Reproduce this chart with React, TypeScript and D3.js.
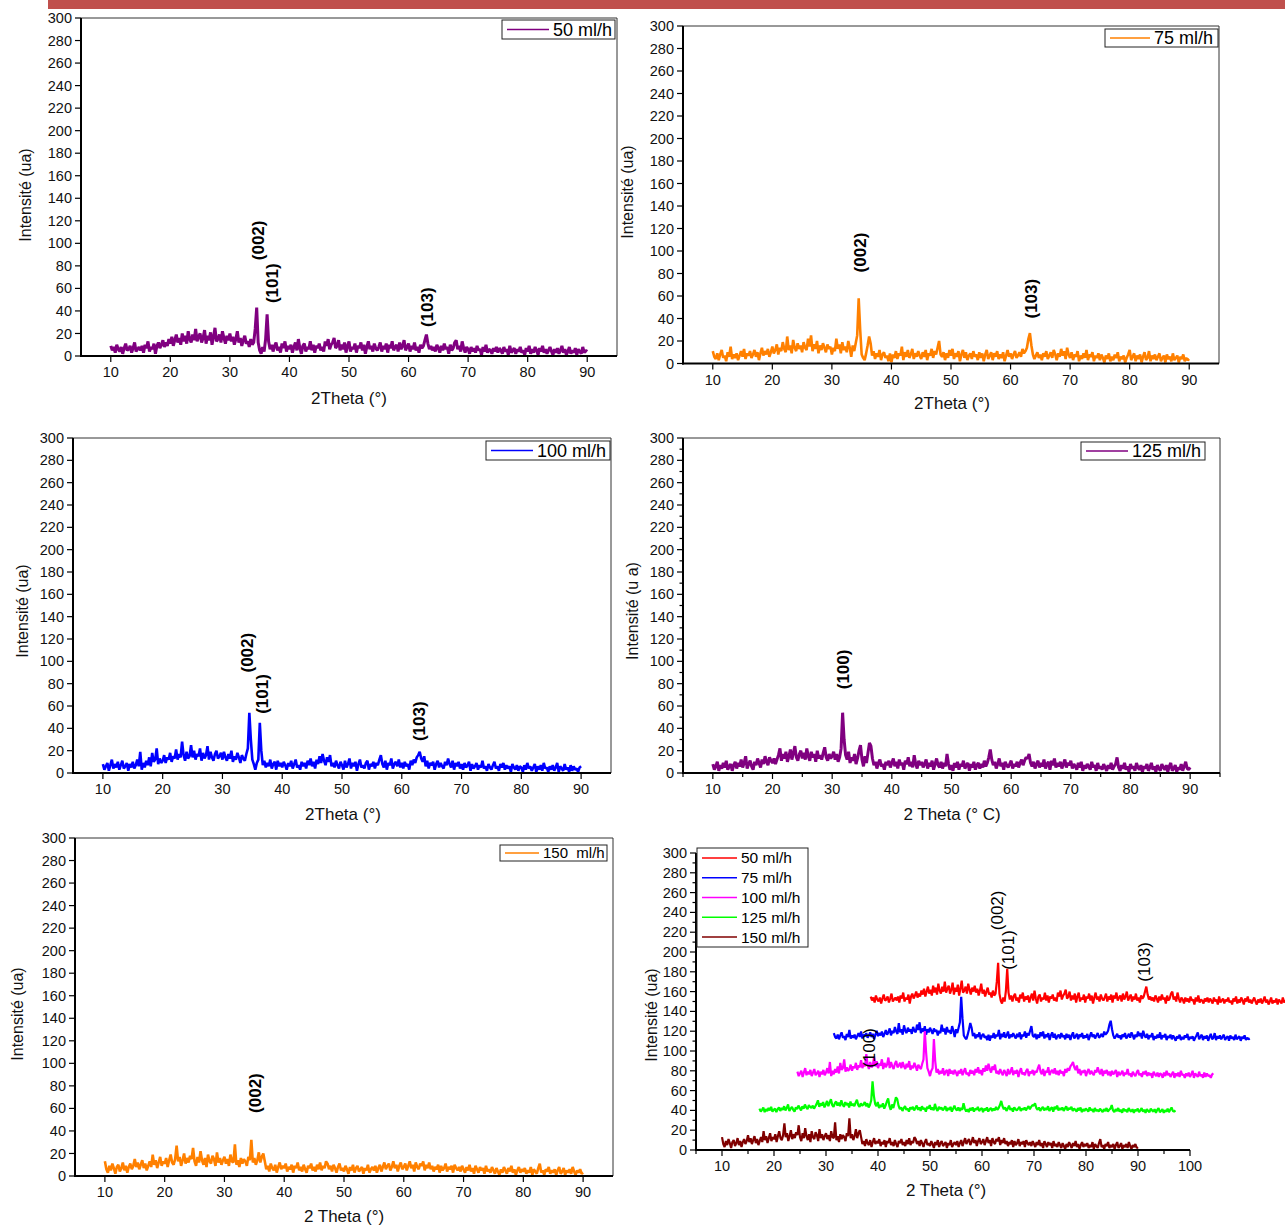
import React from 'react';
import * as d3 from 'd3';

// 2θ sampling of every scan: 10° → 90° by 0.25°
const THETA_START = 10;
const THETA_STEP = 0.25;

// Intensity (ua), 20 values per 5°
const flow50 = [
  9,5,8,3,10,6,4,8,2,7,11,5,6,9,3,7,12,4,6,8,
  5,9,3,10,7,13,4,8,6,11,2,9,12,7,10,14,8,12,9,15,
  11,17,9,14,19,12,16,10,20,13,18,11,22,15,12,19,14,24,13,17,
  20,12,16,23,11,18,14,21,10,17,25,13,15,19,12,22,16,11,18,14,
  20,13,17,10,15,22,12,16,9,14,18,11,13,8,15,10,12,24,43,12,
  5,2,8,4,15,37,13,6,10,4,9,12,5,8,3,11,7,13,4,9,
  6,10,3,8,12,5,15,7,2,9,11,4,8,6,13,5,10,3,9,7,
  11,5,8,4,13,9,15,6,10,12,16,7,9,14,5,10,6,12,3,9,
  13,4,8,6,11,3,9,7,12,5,10,2,8,13,6,9,4,11,7,5,
  8,12,4,9,6,11,3,10,7,13,5,8,10,4,12,6,9,14,5,8,
  11,4,9,6,12,5,8,3,10,7,9,14,19,11,6,9,5,8,4,10,
  7,3,9,5,11,6,8,2,10,5,7,12,14,6,9,4,13,7,3,8,
  6,2,8,4,7,3,9,5,6,1,8,4,10,3,6,5,2,7,4,8,
  3,7,5,2,8,4,6,1,9,3,5,7,2,6,4,8,3,5,1,7,
  4,9,2,6,3,8,5,1,7,4,9,3,6,2,5,8,4,1,6,3,
  7,2,5,9,3,6,1,4,8,2,5,3,7,1,6,4,2,8,3,5,
  4,
];

const flow75 = [
  11,6,4,9,3,8,12,5,7,2,10,6,15,4,8,5,9,3,7,11,
  6,13,4,9,7,11,5,8,12,6,10,3,9,14,7,11,8,13,6,10,
  15,9,12,17,8,14,11,19,13,10,24,12,16,9,21,14,11,18,13,16,
  10,19,14,12,22,15,25,11,17,13,20,9,16,12,18,14,10,17,13,15,
  8,14,11,22,13,17,9,19,12,15,10,20,14,6,16,11,18,25,58,30,
  8,5,3,9,16,24,18,7,11,4,9,6,12,3,8,10,5,7,2,9,
  1,8,5,11,4,9,7,15,3,10,6,12,5,8,13,4,9,6,11,7,
  4,10,6,12,3,9,7,13,5,11,8,14,20,8,6,10,3,9,5,12,
  7,13,4,9,6,11,2,8,12,5,10,3,7,9,4,11,6,8,3,10,
  5,9,2,8,12,4,7,10,3,9,6,11,4,8,5,10,2,7,12,6,
  9,4,8,11,5,7,10,6,13,9,11,14,22,27,16,8,4,7,10,5,
  8,3,9,6,11,4,7,10,5,12,8,3,9,6,13,7,11,4,14,8,
  5,10,3,8,6,11,2,7,4,9,5,12,3,8,6,10,2,7,5,9,
  3,8,5,1,7,4,9,2,6,3,8,5,10,2,6,4,7,1,5,8,
  12,3,6,9,2,7,4,8,1,6,10,3,5,11,2,7,4,8,3,6,
  9,2,5,7,1,8,4,6,2,9,3,5,7,1,6,4,8,2,5,3,
  4,
];

const flow100 = [
  8,3,6,9,2,7,12,4,8,5,10,3,7,11,4,6,9,2,8,5,
  10,4,7,12,6,19,3,9,5,11,7,14,6,18,10,12,22,8,13,9,
  11,16,9,14,12,18,10,15,13,21,12,17,14,28,16,11,19,13,15,25,
  14,20,12,17,15,22,11,18,13,16,24,12,19,14,11,17,20,13,15,18,
  12,19,14,11,17,13,20,10,15,12,18,14,9,16,13,11,17,22,54,30,
  12,8,3,9,12,45,20,7,11,5,9,6,12,4,8,10,3,11,6,9,
  5,10,7,3,9,6,11,4,8,12,5,7,3,10,6,9,4,11,7,13,
  6,10,4,12,8,15,9,17,11,7,14,10,16,6,9,5,11,7,4,10,
  7,3,11,5,8,13,4,9,6,10,2,8,12,5,7,4,9,11,3,8,
  6,10,4,9,7,12,16,8,5,11,3,9,7,13,4,8,10,6,12,5,
  9,4,10,6,8,3,11,7,12,9,14,16,19,13,10,15,6,11,4,9,
  7,10,3,8,11,5,9,6,4,10,7,13,8,5,11,3,9,6,10,4,
  8,3,9,5,7,10,2,8,4,6,9,3,7,5,11,4,6,2,8,5,
  3,7,10,4,6,2,8,5,9,3,7,4,6,1,8,5,3,7,2,6,
  5,1,7,3,9,4,6,2,5,8,1,6,3,7,2,9,4,5,1,6,
  3,7,2,5,9,1,6,4,2,8,3,5,1,7,2,6,3,4,1,5,
  6,
];

const flow125 = [
  8,3,6,10,2,7,4,9,5,11,3,6,8,2,7,10,4,9,6,12,
  5,9,15,4,8,11,6,3,10,7,13,9,5,12,8,15,10,7,14,11,
  9,13,8,12,16,22,11,17,13,19,10,15,21,12,18,24,14,11,17,20,
  13,18,12,22,15,11,19,14,17,10,20,13,16,12,18,23,14,11,17,13,
  15,19,12,17,10,14,22,54,30,16,12,19,9,14,11,17,8,13,20,25,
  12,6,15,9,18,27,24,13,7,10,4,9,12,6,8,3,10,7,11,5,
  9,13,6,10,4,12,7,9,3,11,8,14,6,10,5,16,8,4,11,7,
  10,5,8,12,4,9,6,11,3,8,13,7,5,10,4,9,6,17,8,3,
  7,2,9,5,10,3,8,6,11,4,7,9,2,8,5,10,3,7,9,4,
  8,5,11,6,9,14,21,12,7,10,4,8,13,6,9,3,10,7,5,8,
  11,4,8,6,10,5,9,12,7,11,14,13,17,9,6,10,4,8,11,5,
  9,6,12,4,8,10,3,11,7,13,5,9,6,10,4,8,12,5,9,7,
  11,4,8,6,3,9,5,10,2,7,4,8,6,3,10,5,7,2,9,4,
  6,3,8,5,2,7,4,9,3,6,8,14,5,2,7,4,9,3,6,1,
  8,4,6,2,9,5,3,7,1,6,4,8,2,5,9,3,6,1,7,4,
  2,8,5,3,7,1,6,9,2,4,7,1,5,3,8,2,6,10,4,3,
  5,
];

const flow150 = [
  13,6,3,9,5,11,7,2,8,10,4,7,12,5,9,3,8,11,6,9,
  15,8,12,6,10,14,7,11,5,9,13,8,19,10,14,7,12,17,9,13,
  11,16,8,14,19,12,10,15,27,13,17,9,14,20,11,16,12,18,15,25,
  13,9,17,12,22,14,10,16,8,19,13,11,18,15,9,21,12,16,10,14,
  17,11,15,9,19,13,12,28,10,14,8,16,11,15,13,9,17,14,32,12,
  16,10,14,21,12,17,20,13,6,9,4,11,7,5,10,3,8,12,6,9,
  7,11,4,8,6,10,3,9,7,12,5,8,4,10,6,3,9,7,11,5,
  8,4,10,6,12,5,9,7,13,11,6,9,4,10,7,3,8,11,5,7,
  4,9,6,2,8,5,10,3,7,9,4,6,8,2,7,5,10,3,6,8,
  5,9,3,7,10,4,8,12,6,9,11,5,8,13,7,10,4,9,12,6,
  8,11,5,9,13,7,10,4,12,8,6,11,9,13,5,10,7,12,6,9,
  4,8,6,10,3,9,5,7,11,4,8,6,9,3,10,7,5,8,4,9,
  6,3,8,5,10,4,7,2,9,6,3,8,5,7,2,9,4,6,3,8,
  5,2,7,4,1,6,3,8,5,2,7,4,9,3,6,1,5,8,3,6,
  4,7,2,5,3,8,1,6,4,2,7,11,3,5,1,6,4,8,2,5,
  3,6,1,5,8,2,4,7,1,5,3,6,2,8,4,1,5,3,6,2,
  3,
];

// Axis ticks
const yTickValues = [0,20,40,60,80,100,120,140,160,180,200,220,240,260,280,300];
const xTickValues = [10,20,30,40,50,60,70,80,90];
const xTickValuesAll = [10,20,30,40,50,60,70,80,90,100];

// Stacked panel: series label, shift in 2θ, vertical offset, scale
const stackLabels = ['50 ml/h','75 ml/h','100 ml/h','125 ml/h','150 ml/h'];
const stackShift = [28.6, 21.5, 14.5, 7.2, 0];
const stackOffset = [146, 109.5, 72, 37, 0];
const stackScale = [1, 0.78, 0.89, 0.6, 1];

type Pt = { x: number; y: number };
const toPoints = (vals: number[], shift = 0, offset = 0, scale = 1): Pt[] =>
  vals.map((v, i) => ({ x: THETA_START + i * THETA_STEP + shift, y: offset + v * scale }));

const FONT = '"Liberation Sans", Arial, Helvetica, sans-serif';

type Series = { pts: Pt[]; color: string; name: string };
type Ann = { text: string; x: number; y: number };

type PanelProps = {
  l: number; r: number; t: number; b: number;
  xDomain: [number, number];
  xTicks: number[];
  minor: boolean;
  frame: boolean;
  series: Series[];
  sw: number;
  anns: Ann[];
  annBold: boolean;
  xLabel: string; xLabelX: number; xLabelY: number;
  yLabel: string; yLabelX: number; yLabelY: number;
  legend?: { x: number; y: number; w: number; h: number; fs: number; lineW: number };
};

function Panel(p: PanelProps) {
  const x = d3.scaleLinear().domain(p.xDomain).range([p.l, p.r]);
  const y = d3.scaleLinear().domain([0, 300]).range([p.b, p.t]);
  const line = d3.line<Pt>().x(d => x(d.x)).y(d => y(d.y));
  const minorY = p.minor ? d3.range(10, 300, 20) : [];
  const minorX = p.minor ? d3.range(p.xDomain[0], p.xDomain[1] + 0.01, 10).filter(v => v >= p.xDomain[0]) : [];
  return (
    <g>
      {p.series.map((s, i) => (
        <path key={i} d={line(s.pts) || ''} fill="none" stroke={s.color} strokeWidth={p.sw} strokeLinejoin="bevel" />
      ))}
      {p.frame && (
        <>
          <line x1={p.l} x2={p.r} y1={p.t} y2={p.t} stroke="#333" strokeWidth={1} />
          <line x1={p.r} x2={p.r} y1={p.t} y2={p.b} stroke="#333" strokeWidth={1} />
        </>
      )}
      <line x1={p.l} x2={p.l} y1={p.t} y2={p.b + 1} stroke="#000" strokeWidth={2} />
      <line x1={p.l - 1} x2={p.r} y1={p.b} y2={p.b} stroke="#000" strokeWidth={2} />
      {yTickValues.map(v => (
        <g key={'y' + v}>
          <line x1={p.l - 6} x2={p.l} y1={y(v)} y2={y(v)} stroke="#000" strokeWidth={1.2} />
          <text x={p.l - 9} y={y(v)} dy="0.35em" textAnchor="end" fontSize={14.5} fontFamily={FONT} fill="#111">{v}</text>
        </g>
      ))}
      {minorY.map(v => (
        <line key={'my' + v} x1={p.l - 3.5} x2={p.l} y1={y(v)} y2={y(v)} stroke="#000" strokeWidth={1.2} />
      ))}
      {p.xTicks.map(v => (
        <g key={'x' + v}>
          <line x1={x(v)} x2={x(v)} y1={p.b} y2={p.b + 6} stroke="#000" strokeWidth={1.2} />
          <text x={x(v)} y={p.b + 21} textAnchor="middle" fontSize={14.5} fontFamily={FONT} fill="#111">{v}</text>
        </g>
      ))}
      {minorX.map(v => (
        <line key={'mx' + v} x1={x(v)} x2={x(v)} y1={p.b} y2={p.b + 4} stroke="#000" strokeWidth={1.2} />
      ))}
      <text x={p.xLabelX} y={p.xLabelY} textAnchor="middle" fontSize={17} fontFamily={FONT} fill="#111">{p.xLabel}</text>
      <text transform={`translate(${p.yLabelX},${p.yLabelY}) rotate(-90)`} textAnchor="middle" dy="0.35em" fontSize={16} fontFamily={FONT} fill="#111">{p.yLabel}</text>
      {p.anns.map((a, i) => (
        <text key={'a' + i} transform={`translate(${x(a.x)},${y(a.y)}) rotate(-90)`} dy="0.35em" fontSize={17}
          fontWeight={p.annBold ? 'bold' : 'normal'} fontFamily={FONT} fill="#000">{a.text}</text>
      ))}
      {p.legend && (
        <g>
          <rect x={p.legend.x} y={p.legend.y} width={p.legend.w} height={p.legend.h} fill="#fff" stroke="#222" strokeWidth={1} />
          {p.series.map((s, i) => {
            const rowH = p.legend!.h / p.series.length;
            const cy = p.legend!.y + rowH * (i + 0.5);
            return (
              <g key={'l' + i}>
                <line x1={p.legend!.x + 5} x2={p.legend!.x + 5 + p.legend!.lineW} y1={cy} y2={cy} stroke={s.color} strokeWidth={1.5} />
                <text x={p.legend!.x + 9 + p.legend!.lineW} y={cy} dy="0.36em" fontSize={p.legend!.fs} fontFamily={FONT} fill="#000" style={{ whiteSpace: 'pre' }}>{s.name}</text>
              </g>
            );
          })}
        </g>
      )}
    </g>
  );
}

export default function App() {
  const stackColors = ['#ff0000', '#0000ff', '#ff00ff', '#00ff00', '#800000'];
  const stackData = [flow50, flow75, flow100, flow125, flow150];
  const stackSeries: Series[] = stackData.map((vals, i) => ({
    pts: toPoints(vals, stackShift[i], stackOffset[i], stackScale[i]),
    color: stackColors[i],
    name: stackLabels[i],
  }));
  return (
    <svg width={1285} height={1225} style={{ position: 'absolute', left: 0, top: 0, background: '#fff' }}>
      <rect x={0} y={0} width={1285} height={1225} fill="#fff" />
      <rect x={48} y={0} width={1237} height={9} fill="#c0504d" />
      <Panel l={81} r={617} t={18} b={356} xDomain={[5, 95]} xTicks={xTickValues} minor={false} frame sw={3}
        series={[{ pts: toPoints(flow50), color: '#800080', name: '50 ml/h' }]}
        anns={[{ text: '(002)', x: 34.7, y: 85 }, { text: '(101)', x: 37.1, y: 47 }, { text: '(103)', x: 63.1, y: 25.7 }]}
        annBold xLabel="2Theta (°)" xLabelX={349} xLabelY={404} yLabel="Intensité (ua)" yLabelX={25} yLabelY={195}
        legend={{ x: 502, y: 20, w: 113, h: 19, fs: 18, lineW: 42 }} />
      <Panel l={683} r={1219} t={26} b={363.5} xDomain={[5, 95]} xTicks={xTickValues} minor={false} frame sw={2.6}
        series={[{ pts: toPoints(flow75), color: '#ff8000', name: '75 ml/h' }]}
        anns={[{ text: '(002)', x: 34.7, y: 81 }, { text: '(103)', x: 63.4, y: 40 }]}
        annBold xLabel="2Theta (°)" xLabelX={952} xLabelY={409} yLabel="Intensité (ua)" yLabelX={627} yLabelY={192}
        legend={{ x: 1105, y: 29, w: 113, h: 18, fs: 18, lineW: 40 }} />
      <Panel l={73} r={611} t={438} b={773} xDomain={[5, 95]} xTicks={xTickValues} minor={false} frame sw={2.6}
        series={[{ pts: toPoints(flow100), color: '#0000ff', name: '100 ml/h' }]}
        anns={[{ text: '(002)', x: 34.1, y: 90 }, { text: '(101)', x: 36.6, y: 53 }, { text: '(103)', x: 62.9, y: 28.6 }]}
        annBold xLabel="2Theta (°)" xLabelX={343} xLabelY={820} yLabel="Intensité (ua)" yLabelX={22} yLabelY={611}
        legend={{ x: 486, y: 441, w: 124, h: 19, fs: 18, lineW: 42 }} />
      <Panel l={683} r={1220} t={438} b={773} xDomain={[5, 95]} xTicks={xTickValues} minor frame sw={3}
        series={[{ pts: toPoints(flow125), color: '#800080', name: '125 ml/h' }]}
        anns={[{ text: '(100)', x: 31.8, y: 75 }]}
        annBold xLabel="2 Theta (° C)" xLabelX={952} xLabelY={820} yLabel="Intensité (u a)" yLabelX={632} yLabelY={611}
        legend={{ x: 1081, y: 442, w: 124, h: 18, fs: 18, lineW: 42 }} />
      <Panel l={75} r={613} t={838} b={1176} xDomain={[5, 95]} xTicks={xTickValues} minor={false} frame sw={2.6}
        series={[{ pts: toPoints(flow150), color: '#ff8000', name: '150  ml/h' }]}
        anns={[{ text: '(002)', x: 35.1, y: 56 }]}
        annBold xLabel="2 Theta (°)" xLabelX={344} xLabelY={1222} yLabel="Intensité (ua)" yLabelX={17} yLabelY={1014}
        legend={{ x: 500, y: 845, w: 107, h: 16, fs: 15, lineW: 34 }} />
      <Panel l={696} r={1190} t={853} b={1150} xDomain={[5, 100]} xTicks={xTickValuesAll} minor frame={false} sw={2.2}
        series={stackSeries}
        anns={[{ text: '(002)', x: 62.9, y: 222 }, { text: '(101)', x: 65, y: 182 }, { text: '(103)', x: 91.2, y: 170 }, { text: '(100)', x: 38.3, y: 83 }]}
        annBold={false} xLabel="2 Theta (°)" xLabelX={946} xLabelY={1196} yLabel="Intensité (ua)" yLabelX={651} yLabelY={1015}
        legend={{ x: 697, y: 848, w: 111, h: 99, fs: 15.5, lineW: 35 }} />
    </svg>
  );
}
